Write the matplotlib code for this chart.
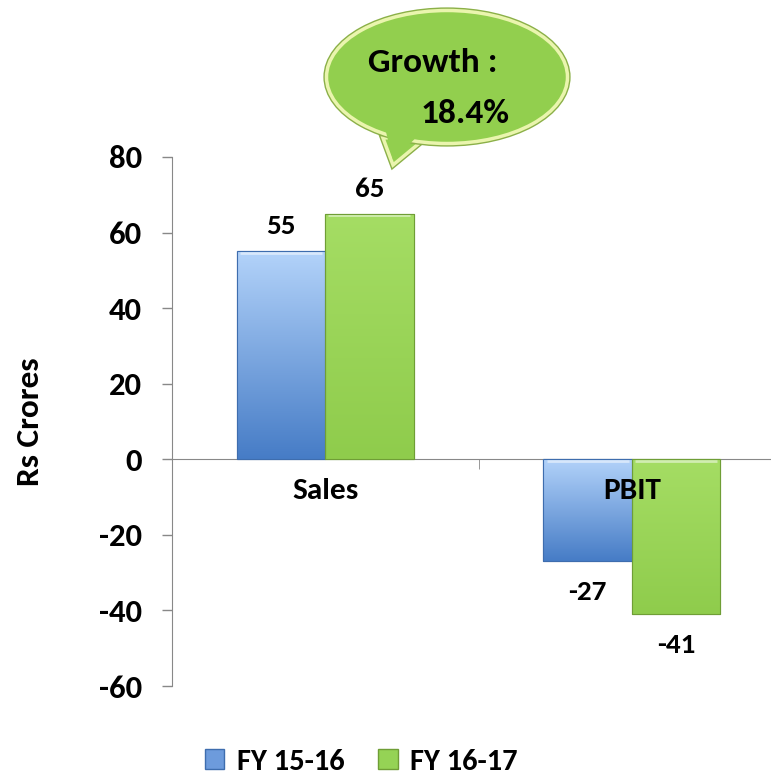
import matplotlib
matplotlib.use("Agg")
import matplotlib.pyplot as plt
import numpy as np
from matplotlib.patches import Ellipse, Polygon, Patch
from matplotlib.colors import LinearSegmentedColormap

plt.rcParams['font.family'] = ['Carlito', 'DejaVu Sans']
plt.rcParams['font.weight'] = 'bold'

categories = ["Sales", "PBIT"]
series_names = ["FY 15-16", "FY 16-17"]
fy1516 = [55, -27]
fy1617 = [65, -41]
yticks = [-60, -40, -20, 0, 20, 40, 60, 80]
ylabel = "Rs Crores"
callout_lines = ["Growth :", "18.4%"]

W, H = 771, 778
fig = plt.figure(figsize=(W / 100, H / 100), dpi=100)
ax = fig.add_axes([172 / W, 1 - 686 / H, 1 - 172 / W, (686 - 157) / H])

x = np.arange(len(categories))
bw = 0.288
bars1 = ax.bar(x - bw / 2, fy1516, bw, color="#7FAAE6", edgecolor="#3E6DAE", linewidth=0.8, zorder=3)
bars2 = ax.bar(x + bw / 2, fy1617, bw, color="#9AD65A", edgecolor="#6F9E36", linewidth=0.8, zorder=3)

def grad(bars, top, bottom):
    cmap = LinearSegmentedColormap.from_list("g", [top, bottom])
    g = np.linspace(0, 1, 256).reshape(-1, 1)
    for b in bars:
        x0, y0 = b.get_x(), min(b.get_y(), b.get_y() + b.get_height())
        x1, y1 = x0 + b.get_width(), max(b.get_y(), b.get_y() + b.get_height())
        im = ax.imshow(g, cmap=cmap, aspect="auto", extent=[x0, x1, y0, y1],
                       origin="upper", zorder=3.5)
        im.set_clip_path(b)
        ax.plot([x0 + 0.01, x1 - 0.01], [y1 - 0.4, y1 - 0.4], color="white", alpha=0.5, lw=2, zorder=4,
                solid_capstyle="butt")
        ax.bar(b.get_x() + b.get_width() / 2, b.get_height(), b.get_width(), bottom=b.get_y(),
               facecolor="none", edgecolor=b.get_edgecolor(), linewidth=0.8, zorder=4.5)

grad(bars1, "#B3D3FA", "#467CC6")
grad(bars2, "#A5DD64", "#8FCC4C")

ax.set_xlim(-0.5, -0.5 + 2 * (771 - 172) / (785 - 172))
ax.set_ylim(-60, 80)
ax.set_yticks(yticks)
ax.set_yticklabels([str(v) for v in yticks], fontsize=23.5, fontweight="bold")
ax.tick_params(axis="y", direction="out", length=7.5, width=1, color="#888888", pad=14)

ax.spines["top"].set_visible(False)
ax.spines["right"].set_visible(False)
ax.spines["left"].set_color("#888888")
ax.spines["bottom"].set_color("#888888")
ax.spines["bottom"].set_position(("data", 0))
ax.spines["bottom"].set_zorder(2)

ax.set_xticks(x)
ax.set_xticklabels([])
ax.tick_params(axis="x", which="major", length=0)
ax.set_xticks([0.5], minor=True)
ax.tick_params(axis="x", which="minor", direction="out", length=7.5, color="#888888")
for xi, c in zip(x, categories):
    ax.annotate(c, (xi, 0), xytext=(0, -22.5), textcoords="offset points", ha="center", va="center",
                fontsize=22.5, fontweight="bold", zorder=7)

ax.set_ylabel(ylabel, fontsize=24, fontweight="bold")
ax.yaxis.set_label_coords(-0.213, 0.5)

for bars in (bars1, bars2):
    for b in bars:
        v = b.get_height()
        cx = b.get_x() + b.get_width() / 2
        off = 18 if v >= 0 else -22
        ax.annotate(f"{v:g}", (cx, v), xytext=(0, off), textcoords="offset points",
                    ha="center", va="center", fontsize=21, fontweight="bold", zorder=6)

# callout bubble in pixel coordinates
ov = fig.add_axes([0, 0, 1, 1], zorder=10)
ov.set_xlim(0, W)
ov.set_ylim(H, 0)
ov.axis("off")
ov.patch.set_alpha(0)
fill = "#92CF4E"
edge = "#EAF5AE"
tail = [(383, 138), (393, 165), (428, 136)]
ov.add_patch(Polygon(tail, closed=True, facecolor=fill, edgecolor="#8BB048", lw=4.5, zorder=1))
ov.add_patch(Polygon(tail, closed=True, facecolor=fill, edgecolor=edge, lw=2.5, zorder=1.1))
ov.add_patch(Ellipse((447, 77), 241, 133, facecolor=fill, edgecolor="#8BB048", lw=4.5, zorder=2))
ov.add_patch(Ellipse((447, 77), 241, 133, facecolor=fill, edgecolor=edge, lw=2.5, zorder=2.1))
ov.add_patch(Polygon([(386, 132), (393, 160), (424, 130)], closed=True, facecolor=fill,
                     edgecolor="none", zorder=3))
ov.text(433, 62, callout_lines[0], ha="center", va="center", fontsize=25.5, fontweight="bold", zorder=4)
ov.text(465, 113, callout_lines[1], ha="center", va="center", fontsize=25.5, fontweight="bold", zorder=4)

handles = [Patch(facecolor="#6D9BDC", edgecolor="#3E6DAE"), Patch(facecolor="#95D355", edgecolor="#6F9E36")]
fig.legend(handles, series_names, loc="center", bbox_to_anchor=(361 / W, 1 - 762 / H), ncol=2,
           frameon=False, prop={"family": "Carlito", "size": 22, "weight": "bold"}, handlelength=0.65,
           handleheight=0.65, handletextpad=0.4, columnspacing=1.1, borderpad=0.1)

fig.savefig("out.png", dpi=100)
